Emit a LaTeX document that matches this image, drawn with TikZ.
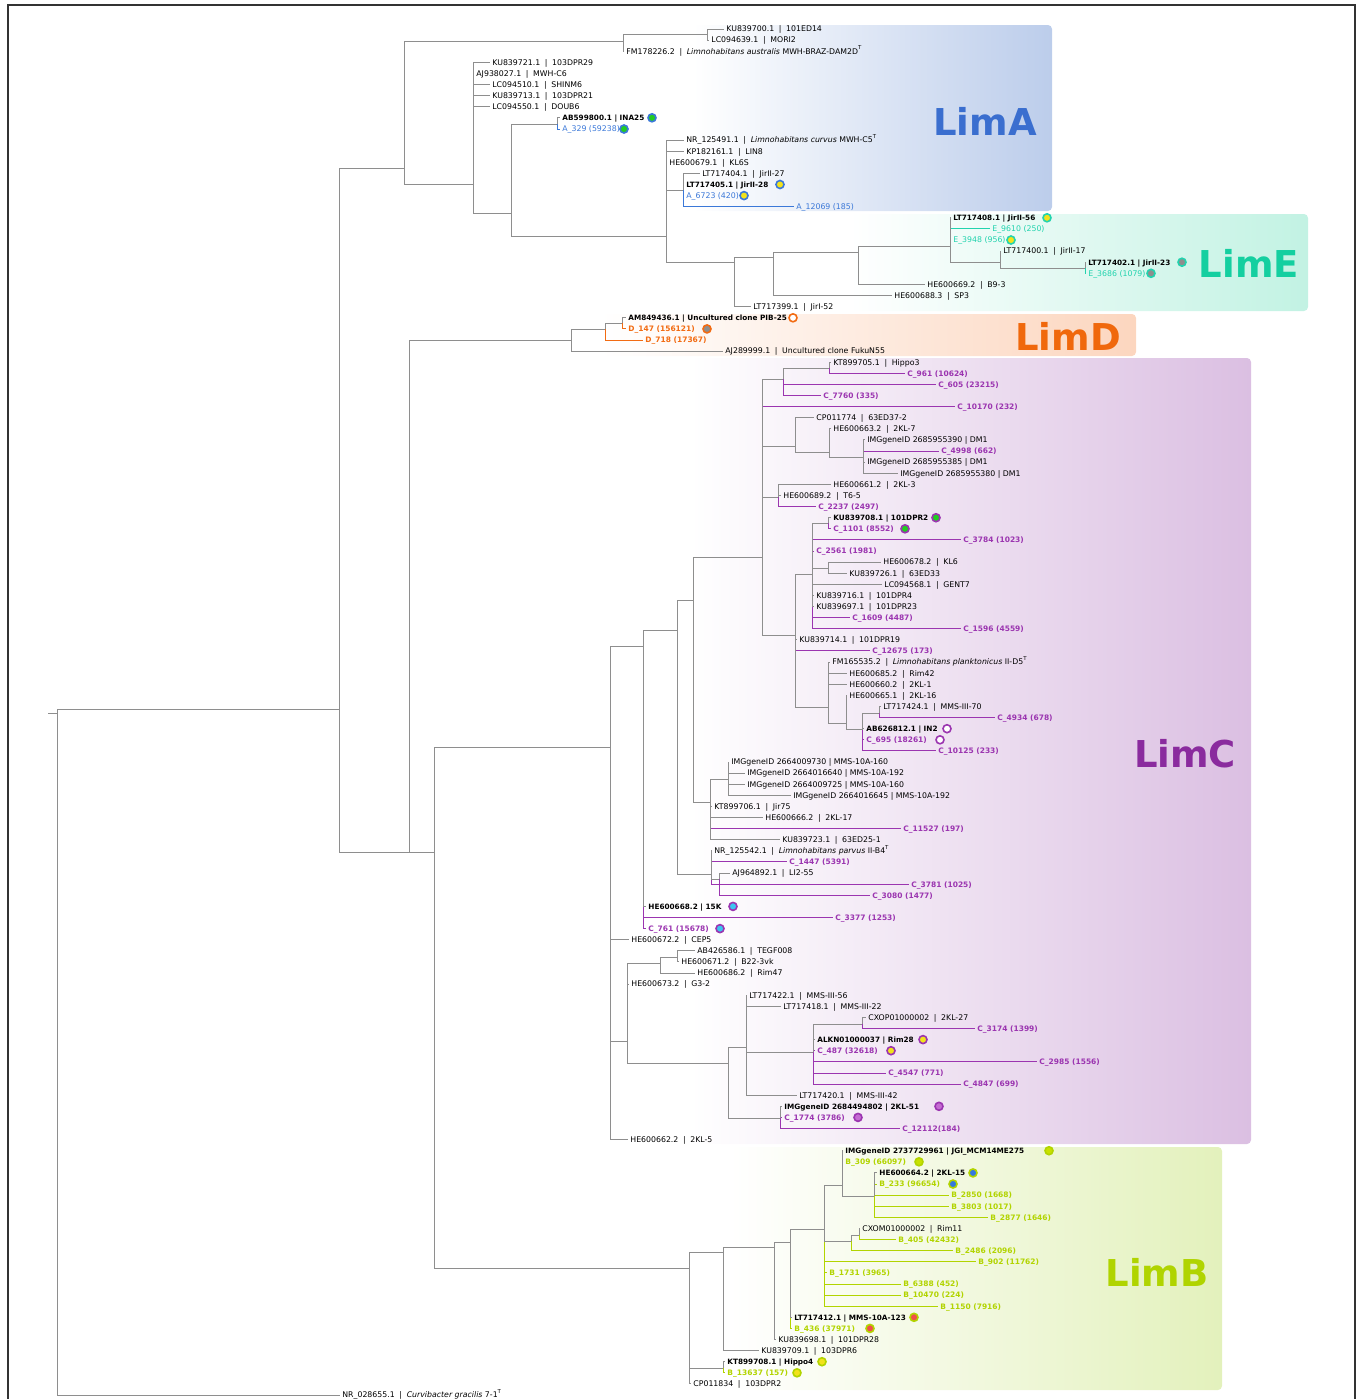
\documentclass[tikz,border=0pt]{standalone}
\usepackage{fontspec}
\setmainfont{DejaVu Sans}

\definecolor{treegray}{HTML}{8E8E8E}
\definecolor{frame}{HTML}{333333}
\definecolor{colA}{HTML}{3B78D8}
\definecolor{colE}{HTML}{22D3AE}
\definecolor{colD}{HTML}{F26B12}
\definecolor{colC}{HTML}{9B35B0}
\definecolor{colB}{HTML}{B2D400}
\definecolor{labA}{HTML}{3A6ECF}
\definecolor{labE}{HTML}{14CFA0}
\definecolor{labD}{HTML}{F0680C}
\definecolor{labC}{HTML}{8A2B9E}
\definecolor{labB}{HTML}{B0D400}
\definecolor{boxA}{HTML}{BCCDEB}
\definecolor{boxE}{HTML}{C2F2E3}
\definecolor{boxD}{HTML}{FCD6BF}
\definecolor{boxC}{HTML}{DBBFE2}
\definecolor{boxB}{HTML}{E3F1BC}
\definecolor{dgreen}{HTML}{22CC22}
\definecolor{dyellow}{HTML}{F2E21C}
\definecolor{dgray}{HTML}{8E8E8E}
\definecolor{dcyan}{HTML}{3CC4F0}
\definecolor{dorchid}{HTML}{C46BD2}
\definecolor{dlime}{HTML}{C8E000}
\definecolor{dblue}{HTML}{3478E0}
\definecolor{dred}{HTML}{F0504A}

\newcommand{\leaffont}{\fontsize{3.9}{4.5}\selectfont}
\newcommand{\vsep}{\hspace{0.6em}|\hspace{0.6em}}
\newcommand{\bsep}{\hspace{0.35em}|\hspace{0.35em}}

\tikzset{
  br/.style={draw=treegray, line width=0.5pt},
  brA/.style={draw=colA, line width=0.5pt},
  brE/.style={draw=colE, line width=0.5pt},
  brD/.style={draw=colD, line width=0.5pt},
  brC/.style={draw=colC, line width=0.5pt},
  brB/.style={draw=colB, line width=0.5pt},
  lf/.style={anchor=west, inner xsep=1pt, inner ysep=0pt, text height=2.9pt, text depth=0.1pt, font=\leaffont},
  lfb/.style={lf, font=\fontsize{3.65}{4.5}\selectfont\bfseries},
  otuA/.style={lf, text=colA},
  otuE/.style={lf, text=colE},
  otub/.style={lf, font=\fontsize{3.75}{4.5}\selectfont\bfseries},
  otuD/.style={otub, text=colD},
  otuC/.style={otub, text=colC},
  otuB/.style={otub, text=colB},
  spot/.style={circle, inner sep=0pt, minimum size=4pt, line width=0.8pt},
  clade/.style={font=\fontsize{18.5}{18.5}\selectfont\bfseries},
}

\begin{document}
\begin{tikzpicture}[x=0.5pt, y=-0.5pt]
\useasboundingbox (0,0) rectangle (1362,1399);
% frame and clade boxes
\draw[frame, line width=0.75pt] (8,1399) -- (8,5) -- (1355,5) -- (1355,1399);
\shade[left color=white, right color=boxA, rounded corners=2pt] (693,25) rectangle (1052,211);
\shade[left color=white, right color=boxE, rounded corners=2pt] (850,214) rectangle (1308,311);
\shade[left color=white, right color=boxD, rounded corners=2pt] (600,314) rectangle (1136,356);
\shade[left color=white, right color=boxC, rounded corners=2pt] (690,358) rectangle (1251,1144);
\shade[left color=white, right color=boxB, rounded corners=2pt] (730,1147) rectangle (1222,1390);
\node[clade, text=labA] (labA) at (985,121) {LimA};
\node[clade, text=labE] (labE) at (1249,263) {LimE};
\node[clade, text=labD] (labD) at (1068,336) {LimD};
\node[clade, text=labC] (labC) at (1185,754) {LimC};
\node[clade, text=labB] (labB) at (1157,1272) {LimB};

% internal nodes
\coordinate (stub) at (48,713);
\coordinate (root) at (57,713);
\coordinate (k1) at (339,709);
\coordinate (k2) at (409,852);
\coordinate (k3) at (434,852);
\coordinate (a1) at (404,168);
\coordinate (a2) at (623,41);
\coordinate (a3) at (707,34);
\coordinate (a4) at (473,184);
\coordinate (a5) at (511,213);
\coordinate (a6) at (557,124);
\coordinate (a7) at (666,236);
\coordinate (a8) at (683,190);
\coordinate (e1) at (734,262);
\coordinate (e2) at (773,257);
\coordinate (e3) at (858,252);
\coordinate (e4) at (950,246);
\coordinate (e5) at (1000,262);
\coordinate (e6) at (1085,268);
\coordinate (d1) at (571,340);
\coordinate (d2) at (605,329);
\coordinate (d3) at (622,323);
\coordinate (c1) at (610,747);
\coordinate (c2) at (643,646);
\coordinate (c3) at (677,630);
\coordinate (c4) at (693,600);
\coordinate (c5) at (762,557);
\coordinate (c6) at (783,379);
\coordinate (c7) at (829,368);
\coordinate (c8) at (795,446);
\coordinate (c9) at (829,452);
\coordinate (c10) at (863,457);
\coordinate (c11) at (778,497);
\coordinate (c12) at (795,635);
\coordinate (c13) at (812,574);
\coordinate (c14) at (828,523);
\coordinate (c22) at (828,568);
\coordinate (c16) at (828,707);
\coordinate (c17) at (846,723);
\coordinate (c18) at (862,729);
\coordinate (c19) at (879,713);
\coordinate (c15) at (710,802);
\coordinate (c23) at (728,779);
\coordinate (c20) at (711,874);
\coordinate (c21) at (719,879);
\coordinate (c30) at (627,1041);
\coordinate (c31) at (660,963);
\coordinate (c32) at (677,957);
\coordinate (c33) at (728,1063);
\coordinate (c34) at (746,1047);
\coordinate (c35) at (813,1052);
\coordinate (c36) at (862,1024);
\coordinate (c37) at (780,1118);
\coordinate (b1) at (689,1268);
\coordinate (b2) at (723,1252);
\coordinate (b3) at (774,1247);
\coordinate (b4) at (790,1242);
\coordinate (b5) at (824,1229);
\coordinate (b6) at (842,1185);
\coordinate (b7) at (874,1196);
\coordinate (b8) at (851,1241);
\coordinate (b9) at (859,1235);
\coordinate (b10) at (723,1368);

% leaves: LimA
\node[lf] (l0) at (724,29.0) {KU839700.1\vsep 101ED14};
\node[lf] (l1) at (709,40.1) {LC094639.1\vsep MORI2};
\node[lf] (l2) at (624,51.2) {FM178226.2\vsep \textit{Limnohabitans australis} MWH-BRAZ-DAM2D\textsuperscript{T}};
\node[lf] (l3) at (490,62.3) {KU839721.1\vsep 103DPR29};
\node[lf] (l4) at (474,73.4) {AJ938027.1\vsep MWH-C6};
\node[lf] (l5) at (490,84.5) {LC094510.1\vsep SHINM6};
\node[lf] (l6) at (490,95.6) {KU839713.1\vsep 103DPR21};
\node[lf] (l7) at (490,106.7) {LC094550.1\vsep DOUB6};
\node[lfb] (l8) at (560,117.8) {AB599800.1\bsep INA25};
\node[otuA] (l9) at (560,129.0) {A\_329 (59238)};
\node[lf] (l10) at (684,140.1) {NR\_125491.1\vsep \textit{Limnohabitans curvus} MWH-C5\textsuperscript{T}};
\node[lf] (l11) at (684,151.2) {KP182161.1\vsep LIN8};
\node[lf] (l12) at (667,162.3) {HE600679.1\vsep KL6S};
\node[lf] (l13) at (700,173.4) {LT717404.1\vsep JirII-27};
\node[lfb] (l14) at (684,184.5) {LT717405.1\bsep JirII-28};
\node[otuA] (l15) at (684,195.6) {A\_6723 (420)};
\node[otuA] (l16) at (794,206.7) {A\_12069 (185)};
% LimE
\node[lfb] (l17) at (951,217.8) {LT717408.1\bsep JirII-56};
\node[otuE] (l18) at (990,228.9) {E\_9610 (250)};
\node[otuE] (l19) at (951,240.0) {E\_3948 (956)};
\node[lf] (l20) at (1001,251.1) {LT717400.1\vsep JirII-17};
\node[lfb] (l21) at (1086,262.2) {LT717402.1\bsep JirII-23};
\node[otuE] (l22) at (1086,273.3) {E\_3686 (1079)};
\node[lf] (l23) at (925,284.4) {HE600669.2\vsep B9-3};
\node[lf] (l24) at (892,295.5) {HE600688.3\vsep SP3};
\node[lf] (l25) at (751,306.7) {LT717399.1\vsep JirI-52};
% LimD
\node[lfb] (l26) at (626,317.8) {AM849436.1\bsep Uncultured clone PIB-25};
\node[otuD] (l27) at (626,328.9) {D\_147 (156121)};
\node[otuD] (l28) at (643,340.0) {D\_718 (17367)};
\node[lf] (l29) at (723,351.1) {AJ289999.1\vsep Uncultured clone FukuN55};
% LimC
\node[lf] (l30) at (831,362.2) {KT899705.1\vsep Hippo3};
\node[otuC] (l31) at (905,373.3) {C\_961 (10624)};
\node[otuC] (l32) at (936,384.4) {C\_605 (23215)};
\node[otuC] (l33) at (821,395.5) {C\_7760 (335)};
\node[otuC] (l34) at (955,406.6) {C\_10170 (232)};
\node[lf] (l35) at (814,417.7) {CP011774\vsep 63ED37-2};
\node[lf] (l36) at (831,428.8) {HE600663.2\vsep 2KL-7};
\node[lf] (l37) at (865,439.9) {IMGgeneID 2685955390 | DM1};
\node[otuC] (l38) at (939,451.0) {C\_4998 (662)};
\node[lf] (l39) at (865,462.1) {IMGgeneID 2685955385 | DM1};
\node[lf] (l40) at (898,473.2) {IMGgeneID 2685955380 | DM1};
\node[lf] (l41) at (831,484.3) {HE600661.2\vsep 2KL-3};
\node[lf] (l42) at (781,495.5) {HE600689.2\vsep T6-5};
\node[otuC] (l43) at (816,506.6) {C\_2237 (2497)};
\node[lfb] (l44) at (831,517.7) {KU839708.1\bsep 101DPR2};
\node[otuC] (l45) at (831,528.8) {C\_1101 (8552)};
\node[otuC] (l46) at (961,539.9) {C\_3784 (1023)};
\node[otuC] (l47) at (814,551.0) {C\_2561 (1981)};
\node[lf] (l48) at (881,562.1) {HE600678.2\vsep KL6};
\node[lf] (l49) at (847,573.2) {KU839726.1\vsep 63ED33};
\node[lf] (l50) at (882,584.3) {LC094568.1\vsep GENT7};
\node[lf] (l51) at (814,595.4) {KU839716.1\vsep 101DPR4};
\node[lf] (l52) at (814,606.5) {KU839697.1\vsep 101DPR23};
\node[otuC] (l53) at (850,617.6) {C\_1609 (4487)};
\node[otuC] (l54) at (961,628.7) {C\_1596 (4559)};
\node[lf] (l55) at (797,639.8) {KU839714.1\vsep 101DPR19};
\node[otuC] (l56) at (870,650.9) {C\_12675 (173)};
\node[lf] (l57) at (830,662.0) {FM165535.2\vsep \textit{Limnohabitans planktonicus} II-D5\textsuperscript{T}};
\node[lf] (l58) at (847,673.2) {HE600685.2\vsep Rim42};
\node[lf] (l59) at (847,684.3) {HE600660.2\vsep 2KL-1};
\node[lf] (l60) at (847,695.4) {HE600665.1\vsep 2KL-16};
\node[lf] (l61) at (881,706.5) {LT717424.1\vsep MMS-III-70};
\node[otuC] (l62) at (995,717.6) {C\_4934 (678)};
\node[lfb] (l63) at (864,728.7) {AB626812.1\bsep IN2};
\node[otuC] (l64) at (864,739.8) {C\_695 (18261)};
\node[otuC] (l65) at (936,750.9) {C\_10125 (233)};
\node[lf] (l66) at (729,762.0) {IMGgeneID 2664009730 | MMS-10A-160};
\node[lf] (l67) at (745,773.1) {IMGgeneID 2664016640 | MMS-10A-192};
\node[lf] (l68) at (745,784.2) {IMGgeneID 2664009725 | MMS-10A-160};
\node[lf] (l69) at (791,795.3) {IMGgeneID 2664016645 | MMS-10A-192};
\node[lf] (l70) at (712,806.4) {KT899706.1\vsep Jir75};
\node[lf] (l71) at (763,817.5) {HE600666.2\vsep 2KL-17};
\node[otuC] (l72) at (901,828.6) {C\_11527 (197)};
\node[lf] (l73) at (780,839.7) {KU839723.1\vsep 63ED25-1};
\node[lf] (l74) at (712,850.8) {NR\_125542.1\vsep \textit{Limnohabitans parvus} II-B4\textsuperscript{T}};
\node[otuC] (l75) at (787,861.9) {C\_1447 (5391)};
\node[lf] (l76) at (730,873.1) {AJ964892.1\vsep LI2-55};
\node[otuC] (l77) at (909,884.2) {C\_3781 (1025)};
\node[otuC] (l78) at (870,895.3) {C\_3080 (1477)};
\node[lfb] (l79) at (646,906.4) {HE600668.2\bsep 15K};
\node[otuC] (l80) at (833,917.5) {C\_3377 (1253)};
\node[otuC] (l81) at (646,928.6) {C\_761 (15678)};
\node[lf] (l82) at (629,939.7) {HE600672.2\vsep CEP5};
\node[lf] (l83) at (695,950.8) {AB426586.1\vsep TEGF008};
\node[lf] (l84) at (679,961.9) {HE600671.2\vsep B22-3vk};
\node[lf] (l85) at (695,973.0) {HE600686.2\vsep Rim47};
\node[lf] (l86) at (629,984.1) {HE600673.2\vsep G3-2};
\node[lf] (l87) at (747,995.2) {LT717422.1\vsep MMS-III-56};
\node[lf] (l88) at (781,1006.3) {LT717418.1\vsep MMS-III-22};
\node[lf] (l89) at (866,1017.4) {CXOP01000002\vsep 2KL-27};
\node[otuC] (l90) at (975,1028.5) {C\_3174 (1399)};
\node[lfb] (l91) at (815,1039.6) {ALKN01000037\bsep Rim28};
\node[otuC] (l92) at (815,1050.7) {C\_487 (32618)};
\node[otuC] (l93) at (1037,1061.9) {C\_2985 (1556)};
\node[otuC] (l94) at (886,1073.0) {C\_4547 (771)};
\node[otuC] (l95) at (961,1084.1) {C\_4847 (699)};
\node[lf] (l96) at (797,1095.2) {LT717420.1\vsep MMS-III-42};
\node[lfb] (l97) at (782,1106.3) {IMGgeneID 2684494802 | 2KL-51};
\node[otuC] (l98) at (782,1117.4) {C\_1774 (3786)};
\node[otuC] (l99) at (900,1128.5) {C\_12112(184)};
\node[lf] (l100) at (628,1139.6) {HE600662.2\vsep 2KL-5};
% LimB
\node[lfb] (l101) at (843,1150.7) {IMGgeneID 2737729961 | JGI\_MCM14ME275};
\node[otuB] (l102) at (843,1161.8) {B\_309 (66097)};
\node[lfb] (l103) at (877,1172.9) {HE600664.2\bsep 2KL-15};
\node[otuB] (l104) at (877,1184.0) {B\_233 (96654)};
\node[otuB] (l105) at (949,1195.1) {B\_2850 (1668)};
\node[otuB] (l106) at (949,1206.2) {B\_3803 (1017)};
\node[otuB] (l107) at (988,1217.3) {B\_2877 (1646)};
\node[lf] (l108) at (860,1228.4) {CXOM01000002\vsep Rim11};
\node[otuB] (l109) at (896,1239.6) {B\_405 (42432)};
\node[otuB] (l110) at (953,1250.7) {B\_2486 (2096)};
\node[otuB] (l111) at (976,1261.8) {B\_902 (11762)};
\node[otuB] (l112) at (827,1272.9) {B\_1731 (3965)};
\node[otuB] (l113) at (901,1284.0) {B\_6388 (452)};
\node[otuB] (l114) at (901,1295.1) {B\_10470 (224)};
\node[otuB] (l115) at (938,1306.2) {B\_1150 (7916)};
\node[lfb] (l116) at (792,1317.3) {LT717412.1\bsep MMS-10A-123};
\node[otuB] (l117) at (792,1328.4) {B\_436 (37971)};
\node[lf] (l118) at (776,1339.5) {KU839698.1\vsep 101DPR28};
\node[lf] (l119) at (759,1350.6) {KU839709.1\vsep 103DPR6};
\node[lfb] (l120) at (725,1361.7) {KT899708.1\bsep Hippo4};
\node[otuB] (l121) at (725,1372.8) {B\_13637 (157)};
\node[lf] (l122) at (691,1383.9) {CP011834\vsep 103DPR2};
% outgroup
\node[lf] (l123) at (340,1395.0) {NR\_028655.1\vsep \textit{Curvibacter gracilis} 7-1\textsuperscript{T}};

% coloured branches
\draw[brA] (a6) |- (l9.west);
\draw[brA] (a8) |- (l15.west) (a8) |- (l16.west);
\draw[brE] (e4) |- (l18.west) (e4) |- (l19.west);
\draw[brE] (e6) |- (l22.west);
\draw[brD] (d3) |- (l27.west);
\draw[brD] (d2) |- (l28.west);
\draw[brC] (c7) |- (l31.west);
\draw[brC] (c6) |- (l32.west) (c6) |- (l33.west);
\draw[brC] (c5) |- (l34.west);
\draw[brC] (c10) |- (l38.west);
\draw[brC] (c11) |- (l43.west);
\draw[brC] (c14) |- (l45.west);
\draw[brC] (c13) |- (l46.west) (c13) |- (l47.west) (c13) |- (l53.west) (c13) |- (l54.west);
\draw[brC] (c12) |- (l56.west);
\draw[brC] (c19) |- (l62.west);
\draw[brC] (c18) |- (l64.west) (c18) |- (l65.west);
\draw[brC] (c15) |- (l72.west);
\draw[brC] (c20) |- (l75.west) (c20) |- (l77.west);
\draw[brC] (c21) |- (l78.west);
\draw[brC] (c2) |- (l80.west) (c2) |- (l81.west);
\draw[brC] (c36) |- (l90.west);
\draw[brC] (c35) |- (l92.west) (c35) |- (l93.west) (c35) |- (l94.west) (c35) |- (l95.west);
\draw[brC] (c37) |- (l98.west) (c37) |- (l99.west);
\draw[brB] (b6) |- (l102.west);
\draw[brB] (b7) |- (l104.west) (b7) |- (l105.west) (b7) |- (l106.west) (b7) |- (l107.west);
\draw[brB] (b9) |- (l109.west);
\draw[brB] (b8) |- (l110.west);
\draw[brB] (b5) |- (l111.west) (b5) |- (l112.west) (b5) |- (l113.west) (b5) |- (l114.west) (b5) |- (l115.west);
\draw[brB] (b4) |- (l117.west);
\draw[brB] (b10) |- (l121.west);

% grey branches
\draw[br] (stub) -- (root);
\draw[br] (root) |- (k1) (root) |- (l123.west);
\draw[br] (k1) |- (a1) (k1) |- (k2);
\draw[br] (a1) |- (a2) (a1) |- (a4);
\draw[br] (a2) |- (a3) (a2) |- (l2.west);
\draw[br] (a3) |- (l0.west) (a3) |- (l1.west);
\draw[br] (a4) |- (l3.west) (a4) |- (l4.west) (a4) |- (l5.west) (a4) |- (l6.west) (a4) |- (l7.west) (a4) |- (a5);
\draw[br] (a5) |- (a6) (a5) |- (a7);
\draw[br] (a6) |- (l8.west);
\draw[br] (a7) |- (l10.west) (a7) |- (l11.west) (a7) |- (l12.west) (a7) |- (a8) (a7) |- (e1);
\draw[br] (a8) |- (l13.west) (a8) |- (l14.west);
\draw[br] (e1) |- (e2) (e1) |- (l25.west);
\draw[br] (e2) |- (e3) (e2) |- (l24.west);
\draw[br] (e3) |- (e4) (e3) |- (l23.west);
\draw[br] (e4) |- (l17.west) (e4) |- (e5);
\draw[br] (e5) |- (l20.west) (e5) |- (e6);
\draw[br] (e6) |- (l21.west);
\draw[br] (k2) |- (d1) (k2) |- (k3);
\draw[br] (d1) |- (d2) (d1) |- (l29.west);
\draw[br] (d2) |- (d3);
\draw[br] (d3) |- (l26.west);
\draw[br] (k3) |- (c1) (k3) |- (b1);
\draw[br] (c1) |- (c2) (c1) |- (l82.west) (c1) |- (c30) (c1) |- (l100.west);
\draw[br] (c2) |- (c3) (c2) |- (l79.west);
\draw[br] (c3) |- (c4) (c3) |- (c20);
\draw[br] (c4) |- (c5) (c4) |- (c15);
\draw[br] (c5) |- (c6) (c5) |- (c8) (c5) |- (c11) (c5) |- (c12);
\draw[br] (c6) |- (c7);
\draw[br] (c7) |- (l30.west);
\draw[br] (c8) |- (l35.west) (c8) |- (c9);
\draw[br] (c9) |- (l36.west) (c9) |- (c10);
\draw[br] (c10) |- (l37.west) (c10) |- (l39.west) (c10) |- (l40.west);
\draw[br] (c11) |- (l41.west) (c11) |- (l42.west);
\draw[br] (c12) |- (c13) (c12) |- (l55.west) (c12) |- (c16);
\draw[br] (c13) |- (c14) (c13) |- (c22) (c13) |- (l50.west) (c13) |- (l51.west) (c13) |- (l52.west);
\draw[br] (c14) |- (l44.west);
\draw[br] (c22) |- (l48.west) (c22) |- (l49.west);
\draw[br] (c16) |- (l57.west) (c16) |- (l58.west) (c16) |- (l59.west) (c16) |- (c17);
\draw[br] (c17) |- (l60.west) (c17) |- (c18);
\draw[br] (c18) |- (c19) (c18) |- (l63.west);
\draw[br] (c19) |- (l61.west);
\draw[br] (c15) |- (c23) (c15) |- (l70.west) (c15) |- (l71.west) (c15) |- (l73.west);
\draw[br] (c23) |- (l66.west) (c23) |- (l67.west) (c23) |- (l68.west) (c23) |- (l69.west);
\draw[br] (c20) |- (l74.west) (c20) |- (c21);
\draw[br] (c21) |- (l76.west);
\draw[br] (c30) |- (c31) (c30) |- (l86.west) (c30) |- (c33);
\draw[br] (c31) |- (c32) (c31) |- (l85.west);
\draw[br] (c32) |- (l83.west) (c32) |- (l84.west);
\draw[br] (c33) |- (c34) (c33) |- (c37);
\draw[br] (c34) |- (l87.west) (c34) |- (l88.west) (c34) |- (c35) (c34) |- (l96.west);
\draw[br] (c35) |- (c36) (c35) |- (l91.west);
\draw[br] (c36) |- (l89.west);
\draw[br] (c37) |- (l97.west);
\draw[br] (b1) |- (b2) (b1) |- (b10) (b1) |- (l122.west);
\draw[br] (b2) |- (b3) (b2) |- (l119.west);
\draw[br] (b3) |- (b4) (b3) |- (l118.west);
\draw[br] (b4) |- (b5) (b4) |- (l116.west);
\draw[br] (b5) |- (b6) (b5) |- (b8);
\draw[br] (b6) |- (l101.west) (b6) |- (b7);
\draw[br] (b7) |- (l103.west);
\draw[br] (b8) |- (b9);
\draw[br] (b9) |- (l108.west);
\draw[br] (b10) |- (l120.west);

% strain markers
\node[spot, draw=colA, fill=dgreen] (m8) at (652,117.8) {};
\node[spot, draw=colA, fill=dgreen] (m9) at (624,129.0) {};
\node[spot, draw=colA, fill=dyellow] (m14) at (780,184.5) {};
\node[spot, draw=colA, fill=dyellow] (m15) at (744,195.6) {};
\node[spot, draw=colE, fill=dyellow] (m17) at (1047,217.8) {};
\node[spot, draw=colE, fill=dyellow] (m19) at (1011,240.0) {};
\node[spot, draw=colE, fill=dgray] (m21) at (1182,262.2) {};
\node[spot, draw=colE, fill=dgray] (m22) at (1151,273.3) {};
\node[spot, draw=colD, fill=white] (m26) at (793,317.8) {};
\node[spot, draw=colD, fill=dgray] (m27) at (707,328.9) {};
\node[spot, draw=colC, fill=dgreen] (m44) at (936,517.7) {};
\node[spot, draw=colC, fill=dgreen] (m45) at (905,528.8) {};
\node[spot, draw=colC, fill=white] (m63) at (947,728.7) {};
\node[spot, draw=colC, fill=white] (m64) at (940,739.8) {};
\node[spot, draw=colC, fill=dcyan] (m79) at (733,906.4) {};
\node[spot, draw=colC, fill=dcyan] (m81) at (720,928.6) {};
\node[spot, draw=colC, fill=dyellow] (m91) at (923,1039.6) {};
\node[spot, draw=colC, fill=dyellow] (m92) at (891,1050.7) {};
\node[spot, draw=colC, fill=dorchid] (m97) at (939,1106.3) {};
\node[spot, draw=colC, fill=dorchid] (m98) at (858,1117.4) {};
\node[spot, draw=colB, fill=dlime] (m101) at (1049,1150.7) {};
\node[spot, draw=colB, fill=dlime] (m102) at (919,1161.8) {};
\node[spot, draw=colB, fill=dblue] (m103) at (973,1172.9) {};
\node[spot, draw=colB, fill=dblue] (m104) at (953,1184.0) {};
\node[spot, draw=colB, fill=dred] (m116) at (914,1317.3) {};
\node[spot, draw=colB, fill=dred] (m117) at (870,1328.4) {};
\node[spot, draw=colB, fill=dyellow] (m120) at (822,1361.7) {};
\node[spot, draw=colB, fill=dyellow] (m121) at (797,1372.8) {};
\end{tikzpicture}
\end{document}
